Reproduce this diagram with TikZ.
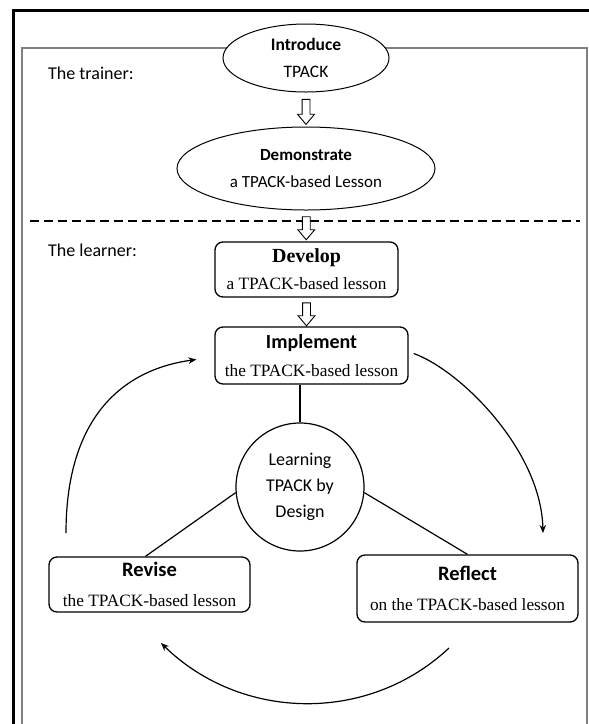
\documentclass[tikz,border=0pt]{standalone}
\usepackage{fontspec}
\setmainfont{Carlito}
\newfontfamily\tnr{Liberation Serif}
\usetikzlibrary{shapes.geometric,shapes.arrows,arrows.meta,calc}

\tikzset{
  oval/.style={ellipse, draw, line width=1pt, fill=white, inner sep=0pt, align=center},
  stepbox/.style={rectangle, rounded corners=8pt, draw, line width=1.3pt, fill=white, inner sep=0pt, align=center},
  hub/.style={circle, draw, line width=1.2pt, minimum size=128pt, inner sep=0pt, align=center, font=\fontsize{18}{26}\selectfont},
  textlow/.style={execute at begin node={\rule{0pt}{#1}}},
  fatarrow/.style={single arrow, draw, line width=0.9pt, fill=white, rotate=-90, inner sep=3.5pt,
    single arrow head extend=4.5pt, single arrow tip angle=80, minimum height=#1},
  role/.style={anchor=base west, inner sep=0pt, font=\fontsize{18}{22}\selectfont},
  cycle/.style={line width=1.2pt, -{Stealth[length=8pt,width=6.5pt]}}
}

\begin{document}
\begin{tikzpicture}[x=1pt, y=-1pt]
  \useasboundingbox (0,0) rectangle (589,724);
  \clip (0,0) rectangle (589,724);
  \fill[white] (0,0) rectangle (589,724);

  % frames
  \draw[line width=3pt] (13.5,760) -- (13.5,10.5) -- (620,10.5);
  \draw[gray, line width=1.5pt] (22,760) -- (22,48) -- (587,48) -- (587,760);
  \draw[dashed, dash pattern=on 9pt off 5pt, line width=1.2pt] (30,221) -- (580,221);

  \node[role] (trainer) at (48,79) {The trainer:};
  \node[role] (learner) at (48,256) {The learner:};

  % the trainer
  \node[oval, textlow=21pt, minimum width=166pt, minimum height=68pt, font=\fontsize{17.5}{27}\selectfont] (intro) at (306,58)
    {\textbf{Introduce}\\TPACK};
  \node[oval, minimum width=258pt, minimum height=83pt, font=\fontsize{17}{27}\selectfont] (demo) at (306,168.5)
    {\textbf{Demonstrate}\\a TPACK-based Lesson};

  % the learner
  \node[stepbox, textlow=22pt, minimum width=183pt, minimum height=55pt, font=\tnr\fontsize{20}{27}\selectfont] (develop) at (306.5,269.5)
    {\textbf{Develop}\\{\fontsize{17.3}{27}\selectfont a TPACK-based lesson}};
  \node[stepbox, textlow=21pt, minimum width=193pt, minimum height=57pt, font=\fontsize{20}{28}\selectfont] (implement) at (311.5,355.5)
    {\textbf{Implement}\\{\tnr\fontsize{17.3}{28}\selectfont the TPACK-based lesson}};
  \node[hub, textlow=22pt] (hub) at (300,487) {Learning\\TPACK by\\Design};
  \node[stepbox, textlow=21pt, minimum width=201pt, minimum height=55pt, font=\fontsize{20.5}{30}\selectfont] (revise) at (149.5,584.5)
    {\textbf{Revise}\\{\tnr\fontsize{17.3}{30}\selectfont the TPACK-based lesson}};
  \node[stepbox, minimum width=221pt, minimum height=67pt, font=\fontsize{20.5}{30}\selectfont] (reflect) at (467.5,588.5)
    {\textbf{Reflect}\\{\tnr\fontsize{17.3}{30}\selectfont on the TPACK-based lesson}};

  % hollow arrows
  \node[fatarrow=25pt] (arr1) at ($(intro.south)!0.5!(demo.north)$) {};
  \node[fatarrow=23pt] (arr2) at ($(demo.south)!0.5!(develop.north)$) {};
  \node[fatarrow=23pt] (arr3) at ($(develop.south)!0.5!(develop.south |- implement.north)$) {};

  % spokes
  \draw[line width=1.2pt] (hub.north) -- (hub.north |- implement.south);
  \draw[line width=1.2pt] (hub.185) -- ($(revise.north)+(-4,0)$);
  \draw[line width=1.2pt] (hub.-5) -- (reflect.north);

  % cycle
  \coordinate (lstart) at (66,533);
  \coordinate (rend) at (543,533);
  \coordinate (bstart) at (449,648);
  \coordinate (bend) at (161,643);
  \draw[cycle] (lstart) .. controls (66,420) and (120,370) .. ($(implement.west)+(-18,4)$);
  \draw[cycle] ($(implement.east)+(5,-2)$) .. controls (460,370) and (541,450) .. (rend);
  \draw[cycle] (bstart) .. controls (368,724) and (241,721) .. (bend);
\end{tikzpicture}
\end{document}
